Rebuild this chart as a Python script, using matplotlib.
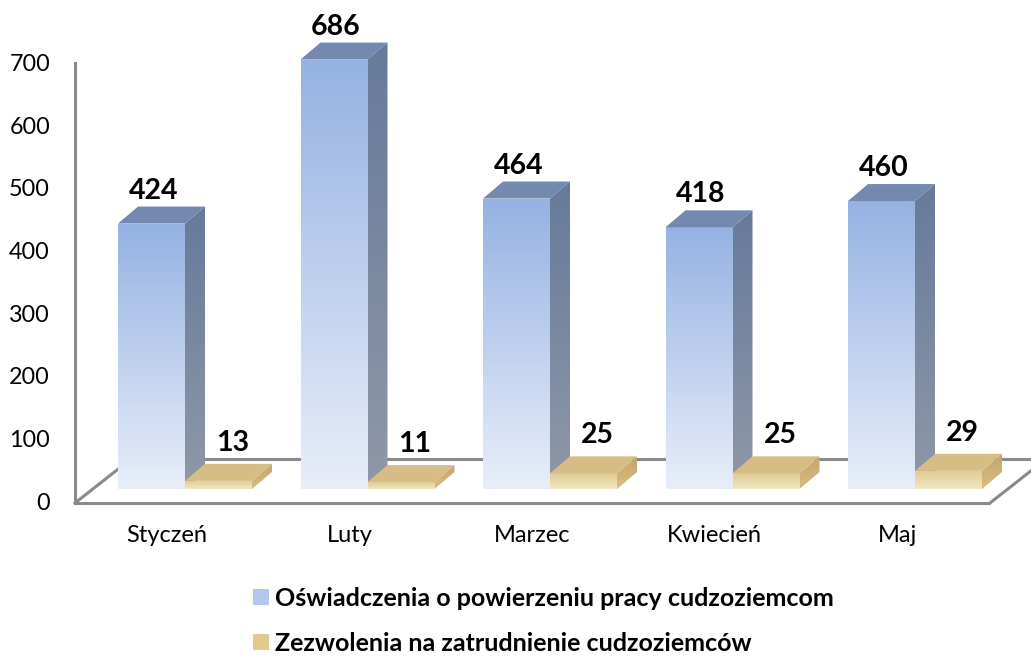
import numpy as np
import matplotlib
matplotlib.use("Agg")
import matplotlib.pyplot as plt
from matplotlib.patches import Polygon, Rectangle, Patch
from matplotlib.colors import LinearSegmentedColormap

# ---------------- data ----------------
categories = ["Styczeń", "Luty", "Marzec", "Kwiecień", "Maj"]
oswiadczenia = [424, 686, 464, 418, 460]
zezwolenia = [13, 11, 25, 25, 29]
series_names = ["Oświadczenia o powierzeniu pracy cudzoziemcom",
                "Zezwolenia na zatrudnienie cudzoziemców"]
y_ticks = [0, 100, 200, 300, 400, 500, 600, 700]

FONT = "Lato"
W, H = 1031, 656
fig = plt.figure(figsize=(W / 100, H / 100), dpi=100)
ax = fig.add_axes([0, 0, 1, 1])

# layout (pixel geometry of the pseudo-3D projection)
X0, XSTEP = 185.0, 182.5     # px of first group centre, px per category
Y0, YS = 489.0, 0.626        # px of value 0 (bar plane), px per unit
XLIM = (-X0 / XSTEP, (W - X0) / XSTEP)
YLIM = ((Y0 - H) / YS, Y0 / YS)

BW = 67 / XSTEP              # bar width (data)
DX, DY = 20 / XSTEP, 17 / YS  # depth offset of bars
# floor / wall
FRONT_Y = -14 / YS
FDX, FDY = 56 / XSTEP, 44 / YS
FX_L, FX_R = (75 - X0) / XSTEP, (990 - X0) / XSTEP
GRID_C = "#8a8a8a"

def grad_fill(poly_xy, x0, x1, y0, y1, c_top, c_bot, z):
    poly = Polygon(poly_xy, closed=True, facecolor="none", edgecolor="none", zorder=z)
    ax.add_patch(poly)
    cmap = LinearSegmentedColormap.from_list("g", [c_bot, c_top])
    grad = np.linspace(0, 1, 256).reshape(-1, 1)
    im = ax.imshow(grad, extent=[x0, x1, y0, y1], origin="lower", cmap=cmap,
                   aspect="auto", zorder=z, interpolation="bilinear")
    im.set_clip_path(poly)

# floor outline and left wall line
ax.plot([FX_L, FX_R], [FRONT_Y, FRONT_Y], color=GRID_C, lw=2.2, zorder=0.5, solid_capstyle="butt")
ax.plot([FX_L, FX_L + FDX], [FRONT_Y, FRONT_Y + FDY], color=GRID_C, lw=2.2, zorder=0.5)
ax.plot([FX_R, FX_R + FDX], [FRONT_Y, FRONT_Y + FDY], color=GRID_C, lw=2.2, zorder=0.5)
ax.plot([FX_L + FDX, FX_R + FDX], [FRONT_Y + FDY, FRONT_Y + FDY], color=GRID_C, lw=2.2, zorder=0.5)
ax.plot([FX_L, FX_L], [FRONT_Y, FRONT_Y + max(y_ticks) + 3], color=GRID_C, lw=2.2, zorder=0.5)

for t in y_ticks:
    ax.text(FX_L - 25 / XSTEP, FRONT_Y + t, str(t), ha="right", va="center",
            fontsize=16.8, family=FONT, color="#000000")

xs = np.arange(len(categories))
blue_rects = ax.bar(xs - BW, oswiadczenia, width=BW, align="edge",
                    facecolor="none", edgecolor="none", zorder=2)
tan_rects = ax.bar(xs, zezwolenia, width=BW, align="edge",
                   facecolor="none", edgecolor="none", zorder=4)

def draw_box(rect, front_top, front_bot, side_top, side_bot, top_c, z):
    x0, y0 = rect.get_x(), rect.get_y()
    w, h = rect.get_width(), rect.get_height()
    x1, y1 = x0 + w, y0 + h
    # front
    grad_fill([(x0, y0), (x1, y0), (x1, y1), (x0, y1)], x0, x1, y0, y1, front_top, front_bot, z)
    # side
    grad_fill([(x1, y0), (x1 + DX, y0 + DY), (x1 + DX, y1 + DY), (x1, y1)],
              x1, x1 + DX, y0, y1 + DY, side_top, side_bot, z - 0.1)
    # top
    ax.add_patch(Polygon([(x0, y1), (x0 + DX, y1 + DY), (x1 + DX, y1 + DY), (x1, y1)],
                         closed=True, facecolor=top_c, edgecolor="none", zorder=z))

for r, v in zip(blue_rects, oswiadczenia):
    draw_box(r, "#95b2e3", "#e8eef9", "#667a9b", "#8f98a8", "#7489b0", 2)
    cx = r.get_x() + r.get_width() / 2 + 2 / XSTEP
    ax.text(cx, v + DY + 3 / YS, str(v), ha="center", va="bottom",
            fontsize=20.5, fontweight="bold", family=FONT, color="#000000", zorder=6)

for r, v in zip(tan_rects, zezwolenia):
    draw_box(r, "#e0cb92", "#f2e6c2", "#c4a46c", "#d8bd84", "#d6bd86", 4)
    cx = r.get_x() + r.get_width() / 2 + 14 / XSTEP
    ax.text(cx, v + DY + 8 / YS, str(v), ha="center", va="bottom",
            fontsize=20.5, fontweight="bold", family=FONT, color="#000000", zorder=6)

for i, c in enumerate(categories):
    ax.text(xs[i] - 18 / XSTEP, (Y0 - 535) / YS, c, ha="center", va="center",
            fontsize=17, family=FONT, color="#000000")

ax.set_xlim(*XLIM)
ax.set_ylim(*YLIM)
ax.axis("off")

handles = [Patch(facecolor="#b3c8ec", edgecolor="none"),
           Patch(facecolor="#e3c98e", edgecolor="none")]
leg = fig.legend(handles, series_names, loc="upper left",
                 bbox_to_anchor=(253 / W, 1 - 587 / H), frameon=False,
                 prop={"family": FONT, "weight": "bold", "size": 18},
                 handlelength=0.62, handleheight=0.62, handletextpad=0.25,
                 labelspacing=0.88, borderaxespad=0, borderpad=0)

fig.savefig("out.png", dpi=100)
